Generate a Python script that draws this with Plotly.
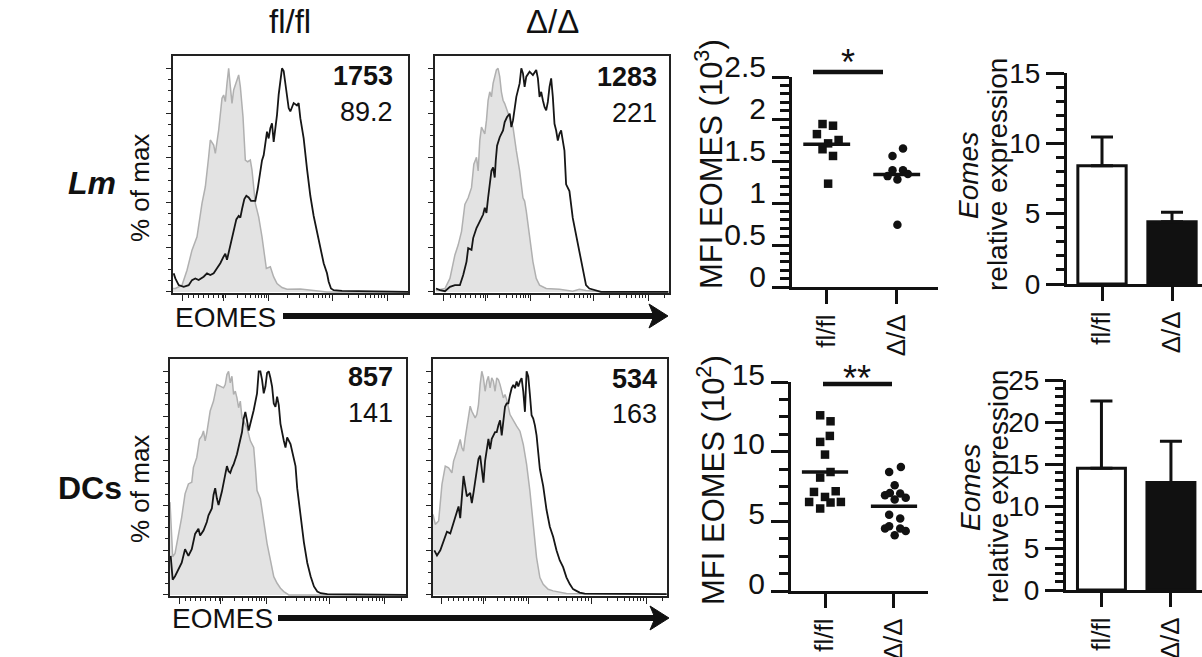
import numpy as np
import plotly.graph_objects as go

W, H = 1202, 657
FONT = "Arial, Liberation Sans, Helvetica, sans-serif"
INK = "#111111"

# ---------------- Flow histograms (channel, event count) ----------------
# Lm, fl/fl
lm_fl_iso_ch = [0,7,27,42,57,72,87,97,107,112,122,127,137,147,152,157,162,167,172,177,182,192,197,202,210,217,224,232,237,247,257,267,274,280,287,292,302,312,327,342,382,402,422,462,705]
lm_fl_iso_n = [10,10,20,65,125,165,265,315,405,455,440,415,485,580,590,570,625,670,615,565,605,635,650,615,525,395,390,395,365,265,225,165,105,70,73,75,45,25,13,8,9,7,3,0,0]
lm_fl_eo_ch = [2,7,17,32,47,57,67,77,92,102,112,122,132,142,152,157,162,167,174,182,190,197,202,207,214,220,227,234,247,254,262,267,272,277,282,287,292,297,302,307,312,317,322,327,332,337,342,347,352,357,362,372,377,382,392,402,412,422,432,442,452,462,467,474,482,507,705]
lm_fl_eo_n = [55,40,20,15,20,35,40,35,45,55,50,55,70,85,105,113,95,117,145,185,215,225,220,245,275,285,280,270,270,305,355,390,405,445,475,455,485,500,445,485,525,585,635,663,655,615,585,545,535,550,560,553,560,515,455,365,285,225,175,125,85,55,30,10,5,3,0]
# Lm, Δ/Δ
lm_dd_iso_ch = [3,15,30,45,60,70,80,90,100,110,117,125,130,135,140,150,155,160,165,170,175,180,185,190,195,200,205,210,217,225,235,245,255,265,270,275,285,295,305,315,335,375,415,435,455,495,515,703]
lm_dd_iso_n = [5,8,10,40,110,140,180,260,280,310,380,400,360,450,490,470,510,570,595,580,620,640,660,665,640,595,570,560,540,515,490,420,360,280,270,240,160,90,40,20,10,8,2,8,4,1,0,0]
lm_dd_eo_ch = [3,15,30,45,60,75,85,95,100,110,115,125,135,145,150,155,160,165,170,175,180,183,187,195,205,210,217,225,230,235,240,245,250,255,260,265,270,275,285,295,305,310,315,320,325,330,335,340,345,350,355,360,365,370,375,380,385,390,395,405,415,425,435,445,455,465,485,500,703]
lm_dd_eo_n = [10,5,2,15,20,20,50,90,130,125,160,190,210,230,250,235,280,320,360,370,340,390,435,460,480,505,520,530,490,510,550,580,600,620,665,650,610,640,655,645,660,635,580,595,570,550,540,565,610,635,580,500,480,450,470,480,450,420,320,300,220,170,130,80,20,10,5,0,0]
# DCs, fl/fl
dc_fl_iso_ch = [0,8,15,25,35,45,55,65,70,80,88,95,100,105,110,120,130,140,150,160,165,170,175,180,185,190,195,200,205,210,215,220,230,240,250,255,260,270,280,290,300,310,320,330,340,355,707]
dc_fl_iso_n = [280,115,125,175,235,305,335,340,385,415,470,480,495,465,490,555,585,635,630,625,635,665,675,640,660,605,615,595,565,585,535,525,505,465,445,385,315,290,225,155,105,55,35,20,10,0,0]
dc_fl_eo_ch = [2,8,15,25,35,45,55,65,75,85,90,100,110,115,125,130,135,140,145,150,155,165,170,175,180,185,190,200,210,215,220,225,230,235,240,245,250,260,265,270,275,280,285,290,295,300,305,310,315,320,325,330,335,340,345,350,360,370,375,380,390,400,410,420,430,440,450,470,707]
dc_fl_eo_n = [115,45,55,75,95,135,115,135,180,195,175,190,215,235,255,295,315,285,265,285,305,355,380,365,360,375,385,415,460,480,520,540,515,485,505,525,545,595,660,660,635,595,615,655,660,640,615,565,555,585,560,505,475,455,435,465,445,405,380,315,225,155,95,55,25,10,5,2,0]
# DCs, Δ/Δ
dc_dd_iso_ch = [0,7,17,27,37,47,57,62,72,77,82,87,92,97,107,112,117,127,132,137,142,147,152,157,162,167,172,177,182,187,192,197,202,207,212,217,222,232,242,252,262,272,282,292,302,312,322,332,347,362,402,704]
dc_dd_iso_n = [242,212,222,332,387,382,367,402,432,452,467,442,432,472,532,567,552,532,542,572,632,672,652,612,642,657,622,652,642,612,652,647,632,607,592,602,587,542,522,507,492,452,392,312,212,112,52,32,17,12,4,2]
dc_dd_eo_ch = [4,12,22,32,42,52,62,72,77,82,92,97,102,112,117,122,132,137,142,147,152,157,162,167,172,177,187,192,197,202,207,212,217,222,227,232,237,242,247,252,257,262,267,272,277,282,287,292,297,302,307,312,322,332,342,352,362,372,382,392,402,412,422,432,442,457,704]
dc_dd_eo_n = [132,117,132,162,187,182,212,242,262,227,352,322,292,302,272,302,362,402,412,362,332,397,432,462,432,462,482,482,502,517,472,522,557,567,567,592,612,622,612,632,617,632,642,602,542,662,647,592,532,522,502,472,372,322,252,202,172,132,102,82,52,32,17,12,7,4,2]

hist_mfi = [("1753", "89.2"), ("1283", "221"), ("857", "141"), ("534", "163")]

# ---------------- MFI dot plots ----------------
group_labels = ["fl/fl", "Δ/Δ"]
lm_mfi_fl = [1.94, 1.92, 1.82, 1.71, 1.75, 1.64, 1.56, 1.23]
lm_mfi_fl_x = [-0.06, 0.09, -0.14, 0.02, 0.17, -0.06, 0.09, 0.02]
lm_mfi_dd = [1.65, 1.56, 1.39, 1.39, 1.32, 1.345, 1.28, 0.74]
lm_mfi_dd_x = [1.09, 0.94, 0.94, 1.09, 0.87, 1.16, 1.01, 1.01]
lm_mfi_mean = [1.70, 1.34]

dc_mfi_fl = [12.61, 12.18, 11.13, 10.70, 9.79, 8.54, 8.14, 7.11, 7.16, 6.75, 6.39, 6.35, 6.39, 5.92]
dc_mfi_fl_x = [-0.07, 0.08, 0.07, -0.07, 0.0, 0.08, -0.07, -0.16, 0.155, 0.0, -0.23, 0.08, 0.23, -0.07]
dc_mfi_dd = [8.90, 8.54, 7.59, 6.87, 7.04, 6.99, 6.70, 6.56, 5.48, 5.20, 4.64, 4.48, 4.48, 4.31, 4.00]
dc_mfi_dd_x = [1.10, 0.93, 1.01, 0.87, 0.94, 1.09, 1.17, 1.01, 0.93, 1.09, 0.93, 0.87, 1.09, 1.17, 1.01]
dc_mfi_mean = [8.54, 6.08]

# ---------------- Eomes relative expression ----------------
lm_expr = [8.4, 4.43]
lm_expr_sem = [2.05, 0.67]
dc_expr = [14.5, 12.8]
dc_expr_sem = [8.0, 4.9]

# ======================================================================
def dx(a, b):
    return [a / W, b / W]


def dy(top, bottom):
    return [1 - bottom / H, 1 - top / H]


def px(x):
    return x / W


def py(y):
    return 1 - y / H


fig = go.Figure()
layout = dict(
    width=W, height=H, margin=dict(l=0, r=0, t=0, b=0, pad=0, autoexpand=False),
    paper_bgcolor="white", plot_bgcolor="white", showlegend=False,
    font=dict(family=FONT, color=INK),
)


def axname(n, kind):
    return f"{kind}axis" if n == 1 else f"{kind}axis{n}"


def ref(n, kind):
    return kind if n == 1 else f"{kind}{n}"


# histogram panels
hist_boxes = [(173, 408, 56, 293), (435, 669, 56, 293), (170, 406, 359, 596), (433, 667, 359, 596)]
hist_sets = [
    (lm_fl_iso_ch, lm_fl_iso_n, lm_fl_eo_ch, lm_fl_eo_n),
    (lm_dd_iso_ch, lm_dd_iso_n, lm_dd_eo_ch, lm_dd_eo_n),
    (dc_fl_iso_ch, dc_fl_iso_n, dc_fl_eo_ch, dc_fl_eo_n),
    (dc_dd_iso_ch, dc_dd_iso_n, dc_dd_eo_ch, dc_dd_eo_n),
]
x_major = [27, 152, 287, 477, 642]
x_minor = [47, 62, 77, 92, 107, 122, 137, 147, 157,
           193, 216, 233, 246, 257, 266, 274, 281,
           344, 378, 401, 420, 435, 447, 458, 468,
           527, 556, 576, 592, 605, 616, 626, 634, 692]
y_minor = [v for v in range(5, 100, 5) if v % 20]

for i, (box, (gch, gn, bch, bn)) in enumerate(zip(hist_boxes, hist_sets)):
    n = i + 1
    g = np.array(gn, dtype=float)
    b = np.array(bn, dtype=float)
    fig.add_trace(go.Scatter(x=gch, y=g / g.max() * 100, mode="lines", fill="tozeroy",
                             fillcolor="#e3e3e3", line=dict(color="#b0b0b0", width=1.5),
                             xaxis=ref(n, "x"), yaxis=ref(n, "y"), hoverinfo="skip"))
    fig.add_trace(go.Scatter(x=bch, y=b / b.max() * 100, mode="lines",
                             line=dict(color="#161616", width=1.8),
                             xaxis=ref(n, "x"), yaxis=ref(n, "y"), hoverinfo="skip"))
    x0, x1, y0, y1 = box
    layout[axname(n, "x")] = dict(
        domain=dx(x0, x1), range=[0, 705], anchor=ref(n, "y"), showline=True, mirror=True,
        linecolor="#222", linewidth=1.5, ticks="outside", tickmode="array", tickvals=x_major,
        ticklen=6, tickwidth=1.3, tickcolor="#222", showticklabels=False, showgrid=False,
        zeroline=False, automargin=False,
        minor=dict(tickmode="array", tickvals=x_minor, ticklen=3, tickwidth=1, ticks="outside",
                   tickcolor="#222", showgrid=False))
    layout[axname(n, "y")] = dict(
        domain=dy(y0, y1), range=[-0.5, 105.5], anchor=ref(n, "x"), showline=True, mirror=True,
        linecolor="#222", linewidth=1.5, ticks="outside", tickmode="array",
        tickvals=[0, 20, 40, 60, 80, 100], ticklen=5, tickwidth=1.3, tickcolor="#222",
        showticklabels=False, showgrid=False, zeroline=False, automargin=False,
        minor=dict(tickmode="array", tickvals=y_minor, ticklen=3, tickwidth=1, ticks="outside",
                   tickcolor="#222", showgrid=False))

# dot plots
dot_specs = [
    (5, lm_mfi_fl, lm_mfi_fl_x, lm_mfi_dd, lm_mfi_dd_x, lm_mfi_mean,
     (792, 938), [-0.496, 1.59], (77, 287), [0, 2.5], 0.5, 0.1, -11),
    (6, dc_mfi_fl, dc_mfi_fl_x, dc_mfi_dd, dc_mfi_dd_x, dc_mfi_mean,
     (791, 928), [-0.493, 1.493], (382, 591), [0, 15], 5, 1.25, -8),
]
for (n, vf, xf, vd, xd, means, xdom, xr, ydom, yr, dt, mdt, shift) in dot_specs:
    fig.add_trace(go.Scatter(x=xf, y=vf, mode="markers",
                             marker=dict(symbol="square", size=8.5, color=INK),
                             xaxis=ref(n, "x"), yaxis=ref(n, "y"), cliponaxis=False))
    fig.add_trace(go.Scatter(x=xd, y=vd, mode="markers",
                             marker=dict(symbol="circle", size=8.5, color=INK),
                             xaxis=ref(n, "x"), yaxis=ref(n, "y"), cliponaxis=False))
    for k, m in enumerate(means):
        fig.add_trace(go.Scatter(x=[k - 0.335, k + 0.335], y=[m, m], mode="lines",
                                 line=dict(color=INK, width=3.5),
                                 xaxis=ref(n, "x"), yaxis=ref(n, "y"), cliponaxis=False))
    layout[axname(n, "x")] = dict(
        domain=dx(*xdom), range=xr, anchor=ref(n, "y"), showline=True, linecolor=INK,
        linewidth=3, ticks="outside", tickmode="array", tickvals=[0, 1], ticktext=group_labels,
        ticklen=14, tickwidth=3, tickcolor=INK, tickangle=-90, tickfont=dict(size=26),
        showgrid=False, zeroline=False, automargin=False)
    layout[axname(n, "y")] = dict(
        domain=dy(*ydom), range=yr, anchor=ref(n, "x"), showline=True, linecolor=INK,
        linewidth=3, ticks="outside", dtick=dt, tick0=0, ticklen=17, tickwidth=3,
        tickcolor=INK, tickfont=dict(size=30), ticklabelshift=shift, showgrid=False,
        zeroline=False, automargin=False,
        minor=dict(dtick=mdt, tick0=0, ticklen=9, tickwidth=3, ticks="outside",
                   tickcolor=INK, showgrid=False))

# bar charts
bar_specs = [
    (7, lm_expr, lm_expr_sem, (1067, 1202), [-0.5, 1.4286], (73, 284), [0, 15]),
    (8, dc_expr, dc_expr_sem, (1066, 1202), [-0.51, 1.447], (380, 590), [0, 25]),
]
for (n, vals, sem, xdom, xr, ydom, yr) in bar_specs:
    fig.add_trace(go.Bar(x=[0, 1], y=vals, width=0.69,
                         marker=dict(color=["white", INK], line=dict(color=INK, width=3)),
                         error_y=dict(type="data", array=sem, arrayminus=[0, 0], symmetric=False,
                                      color=INK, thickness=3, width=11),
                         xaxis=ref(n, "x"), yaxis=ref(n, "y")))
    layout[axname(n, "x")] = dict(
        domain=dx(*xdom), range=xr, anchor=ref(n, "y"), showline=True, linecolor=INK,
        linewidth=3, ticks="outside", tickmode="array", tickvals=[0, 1], ticktext=group_labels,
        ticklen=14, tickwidth=3, tickcolor=INK, tickangle=-90, tickfont=dict(size=26),
        showgrid=False, zeroline=False, automargin=False)
    layout[axname(n, "y")] = dict(
        domain=dy(*ydom), range=yr, anchor=ref(n, "x"), showline=True, linecolor=INK,
        linewidth=3, ticks="outside", dtick=5, tick0=0, ticklen=18, tickwidth=3,
        tickcolor=INK, tickfont=dict(size=28), showgrid=False, zeroline=False, automargin=False,
        minor=dict(dtick=1, tick0=0, ticklen=8, tickwidth=3, ticks="outside",
                   tickcolor=INK, showgrid=False))

# ---------------- annotations ----------------
ann = []


def text(x, y, s, size, angle=0, xanchor="center", yanchor="middle"):
    ann.append(dict(x=px(x), y=py(y), xref="paper", yref="paper", text=s, showarrow=False,
                    font=dict(size=size, family=FONT, color=INK), textangle=angle,
                    xanchor=xanchor, yanchor=yanchor))


text(290, 21, "fl/fl", 33)
text(552, 21, "Δ/Δ", 33)
text(92, 183, "<b><i>Lm</i></b>", 32)
text(90, 488, "<b>DCs</b>", 32)
text(140, 188, "% of max", 26, angle=-90)
text(140, 489, "% of max", 26, angle=-90)
text(225, 317, "EOMES", 28)
text(222, 618, "EOMES", 28)

mfi_pos = [(395, 76, 112), (659, 77, 113), (395, 377, 413), (659, 379, 414)]
for (bold, plain), (xr_, y1, y2) in zip(hist_mfi, mfi_pos):
    text(xr_, y1, f"<b>{bold}</b>", 27, xanchor="right")
    text(xr_, y2, plain, 27, xanchor="right")

text(709, 164, "MFI EOMES (10<sup>3</sup>)", 31, angle=-90)
text(711, 480, "MFI EOMES (10<sup>2</sup>)", 31, angle=-90)
text(969, 175, "<i>Eomes</i>", 28, angle=-90)
text(998, 175, "relative expression", 28, angle=-90)
text(970, 487, "<i>Eomes</i>", 28, angle=-90)
text(998, 487, "relative expression", 28, angle=-90)

text(848, 62, "*", 36)
text(857, 378, "**", 36)

layout["annotations"] = ann

# ---------------- shapes (arrows, significance bars) ----------------
shapes = []


def hline(x0, x1, y, w):
    shapes.append(dict(type="line", xref="paper", yref="paper", x0=px(x0), x1=px(x1),
                       y0=py(y), y1=py(y), line=dict(color=INK, width=w)))


def arrowhead(tip_x, y):
    pts = [(tip_x, y), (tip_x - 19, y - 12), (tip_x - 14, y), (tip_x - 19, y + 12)]
    path = "M " + " L ".join(f"{px(a):.5f},{py(b):.5f}" for a, b in pts) + " Z"
    shapes.append(dict(type="path", xref="paper", yref="paper", path=path,
                       fillcolor=INK, line=dict(color=INK, width=1)))


hline(283, 656, 316, 6)
arrowhead(668, 316)
hline(278, 657, 618, 6)
arrowhead(669, 618)
hline(813, 883, 72, 4.5)
hline(823, 892, 384, 4.5)
layout["shapes"] = shapes

fig.update_layout(**layout)
fig.write_html("out.html")
